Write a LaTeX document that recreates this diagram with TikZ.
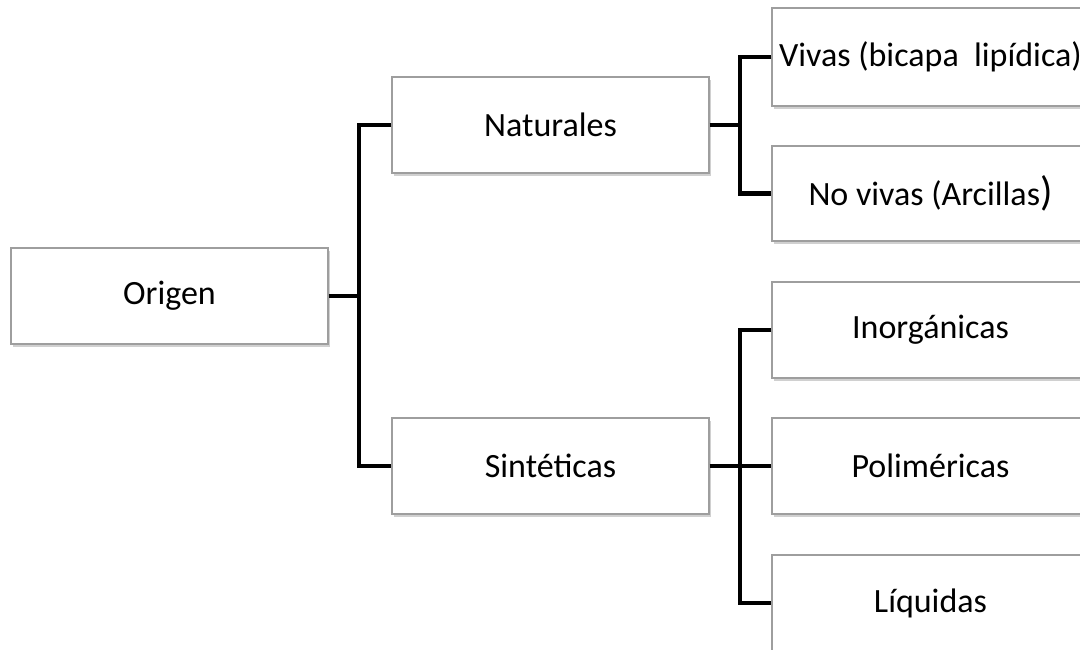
\documentclass[tikz,border=0pt]{standalone}
\usepackage{fontspec}
\setmainfont{Carlito}
\usetikzlibrary{shadows}
\begin{document}
\begin{tikzpicture}[x=1pt,y=-1pt,
  box/.style={draw=black!38,line width=1.3pt,fill=white,minimum width=317pt,
    minimum height=96pt,inner sep=0pt,
    font=\fontsize{34}{36}\selectfont,
    drop shadow={shadow xshift=2pt,shadow yshift=-3pt,fill=black!30,opacity=0.6}},
  link/.style={line width=4.6pt,line join=miter,black}]
  \clip (0,0) rectangle (1080,650);
  \fill[white] (0,0) rectangle (1080,650);

  % boxes
  \node[box] (orig) at (169.5,296)   {Origen};
  \node[box] (nat)  at (550.5,125)   {Naturales};
  \node[box] (sin)  at (550.5,466)   {Sintéticas};
  \node[box,minimum height=98pt] (viv) at (930.5,57) {Vivas (bicapa\ \ lipídica)};
  \node[box,minimum height=95pt] (nov) at (930.5,193.5) {No vivas (Arcillas{\fontsize{41}{41}\selectfont )}};
  \node[box] (ino) at (930.5,330) {Inorgánicas};
  \node[box] (pol) at (930.5,466) {Poliméricas};
  \node[box] (liq) at (930.5,603) {Líquidas};

  % branching points
  \coordinate (t1) at (359,296);
  \coordinate (t2) at (740,125);
  \coordinate (t3) at (740,466);

  % connectors
  \draw[link] (orig.east) -- (t1);
  \draw[link] (nat.west) -| (t1) |- (sin.west);
  \draw[link] (nat.east) -- (t2);
  \draw[link] (viv.west) -| (t2) |- (nov.west);
  \draw[link] (sin.east) -- (t3) -- (pol.west);
  \draw[link] (ino.west) -| (t3) |- (liq.west);
\end{tikzpicture}
\end{document}
